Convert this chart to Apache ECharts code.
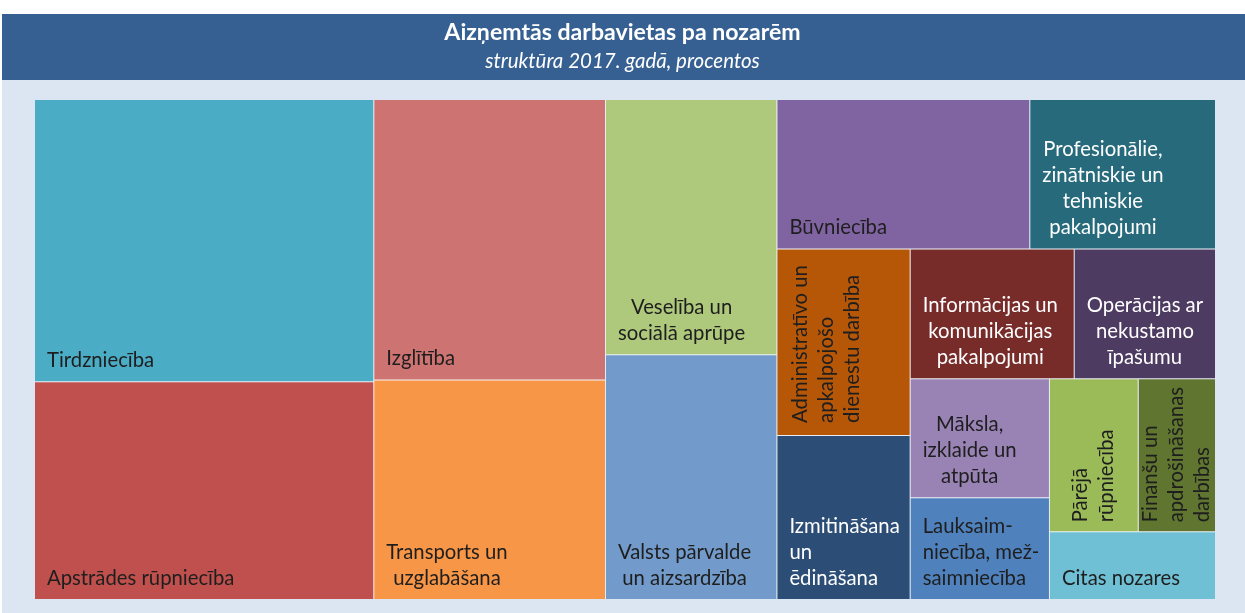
<!DOCTYPE html>
<html>
<head>
<meta charset="utf-8">
<script src="https://cdn.jsdelivr.net/npm/echarts@6/dist/echarts.min.js"></script>
<style>
html,body{margin:0;padding:0;background:#ffffff;}
#chart{width:1245px;height:613px;}
</style>
</head>
<body>
<div id="chart"></div>
<script>
// ---------------- data ----------------
const titleText = 'Aizņemtās darbavietas pa nozarēm';
const subtitleText = 'struktūra 2017. gadā, procentos';

const categories = [
  'Tirdzniecība',
  'Apstrādes rūpniecība',
  'Izglītība',
  'Transports un uzglabāšana',
  'Veselība un sociālā aprūpe',
  'Valsts pārvalde un aizsardzība',
  'Būvniecība',
  'Profesionālie, zinātniskie un tehniskie pakalpojumi',
  'Administratīvo un apkalpojošo dienestu darbība',
  'Izmitināšana un ēdināšana',
  'Informācijas un komunikācijas pakalpojumi',
  'Operācijas ar nekustamo īpašumu',
  'Māksla, izklaide un atpūta',
  'Lauksaimniecība, mežsaimniecība',
  'Pārējā rūpniecība',
  'Finanšu un apdrošināšanas darbības',
  'Citas nozares'
];

const values = [16.2, 12.5, 11.0, 8.6, 7.4, 7.1, 6.4, 4.7, 4.2, 3.7, 3.6, 3.1, 2.8, 2.4, 2.3, 2.0, 1.9];

const labelTexts = [
  'Tirdzniecība',
  'Apstrādes rūpniecība',
  'Izglītība',
  'Transports un\nuzglabāšana',
  'Veselība un\nsociālā aprūpe',
  'Valsts pārvalde\nun aizsardzība',
  'Būvniecība',
  'Profesionālie,\nzinātniskie un\ntehniskie\npakalpojumi',
  'Administratīvo un\napkalpojošo\ndienestu darbība',
  'Izmitināšana\nun\nēdināšana',
  'Informācijas un\nkomunikācijas\npakalpojumi',
  'Operācijas ar\nnekustamo\nīpašumu',
  'Māksla,\nizklaide un\natpūta',
  'Lauksaim-\nniecība, mež-\nsaimniecība',
  'Pārējā\nrūpniecība',
  'Finanšu un\napdrošināšanas\ndarbības',
  'Citas nozares'
];

// ---------------- styles ----------------
const cellColors = ['#4BACC6','#C0504D','#CD7371','#F79646','#AEC87C','#729ACA','#8064A2','#276A7C',
                    '#B65708','#2C4D75','#772C2A','#4D3B62','#9983B5','#4F81BD','#9BBB59','#5F7530','#6FC0D4'];
const labelModes = ['left','left','left','center','center','center','left','center',
                    'rotLeft','left','center','center','center','left','rotCenter','rotCenter','left'];
const lightText = [false,false,false,false,false,false,false,true,false,true,true,true,false,false,false,false,false];

const FONT = 'Lato';
const LFS = 20.3;   // label font size
const TFS = 23.1;   // title font size
const SFS = 20.5;   // subtitle font size
const LH = 26, PADL = 12, PADB = 8;

const cv = document.createElement('canvas').getContext('2d');
function tw(s, font) { cv.font = font; return cv.measureText(s).width; }

function labelFor(i) {
  const text = labelTexts[i];
  const base = {
    show: true,
    formatter: text,
    fontFamily: FONT,
    fontSize: LFS,
    lineHeight: LH,
    color: lightText[i] ? '#ffffff' : '#1e1e1e',
    overflow: 'none'
  };
  const mode = labelModes[i];
  if (mode === 'center') {
    const w = Math.max(...text.split('\n').map(l => tw(l, LFS + 'px ' + FONT)));
    return Object.assign(base, {position: [PADL + w / 2, '100%'], align: 'center', verticalAlign: 'bottom', padding: [0, 0, PADB, 0]});
  }
  if (mode === 'rotLeft') {
    return Object.assign(base, {position: 'insideBottomLeft', distance: 0, rotate: 90, align: 'left', verticalAlign: 'top', padding: [10, 0, 0, 12]});
  }
  if (mode === 'rotCenter') {
    return Object.assign(base, {position: ['50%', '100%'], rotate: 90, align: 'left', verticalAlign: 'middle', padding: [0, 0, 0, 9]});
  }
  return Object.assign(base, {position: 'insideBottomLeft', distance: 0, align: 'left', verticalAlign: 'bottom', padding: [0, 0, PADB, PADL]});
}

const items = categories.map((name, i) => ({
  name: name,
  value: values[i],
  itemStyle: {color: cellColors[i]},
  label: labelFor(i)
}));

const chart = echarts.init(document.getElementById('chart'), null, {renderer: 'canvas'});
chart.setOption({
  animation: false,
  backgroundColor: '#ffffff',
  title: {
    text: titleText,
    subtext: subtitleText,
    left: 'center',
    top: 41.7 - 0.887 * TFS,
    padding: 0,
    itemGap: (69.3 - 0.887 * SFS) - (41.7 - 0.887 * TFS) - TFS,
    textStyle: {fontFamily: FONT, fontWeight: 'bold', fontSize: TFS, lineHeight: TFS, color: '#ffffff'},
    subtextStyle: {fontFamily: FONT, fontStyle: 'italic', fontSize: SFS, lineHeight: SFS, color: '#ffffff'}
  },
  graphic: [
    {type: 'rect', z: -10, shape: {x: 2, y: 14, width: 1243, height: 66}, style: {fill: '#376092'}},
    {type: 'rect', z: -10, shape: {x: 2, y: 80, width: 1243, height: 533}, style: {fill: '#DCE6F2'}}
  ],
  series: [{
    type: 'treemap',
    left: 35, top: 100, width: 1180, height: 499,
    squareRatio: 1,
    sort: 'desc',
    roam: false,
    nodeClick: false,
    breadcrumb: {show: false},
    visibleMin: 0,
    emphasis: {disabled: true},
    levels: [
      {itemStyle: {borderWidth: 0, gapWidth: 1, borderColor: '#E6EDF6'}},
      {itemStyle: {borderWidth: 0, gapWidth: 0}}
    ],
    data: items
  }]
});
</script>
</body>
</html>
